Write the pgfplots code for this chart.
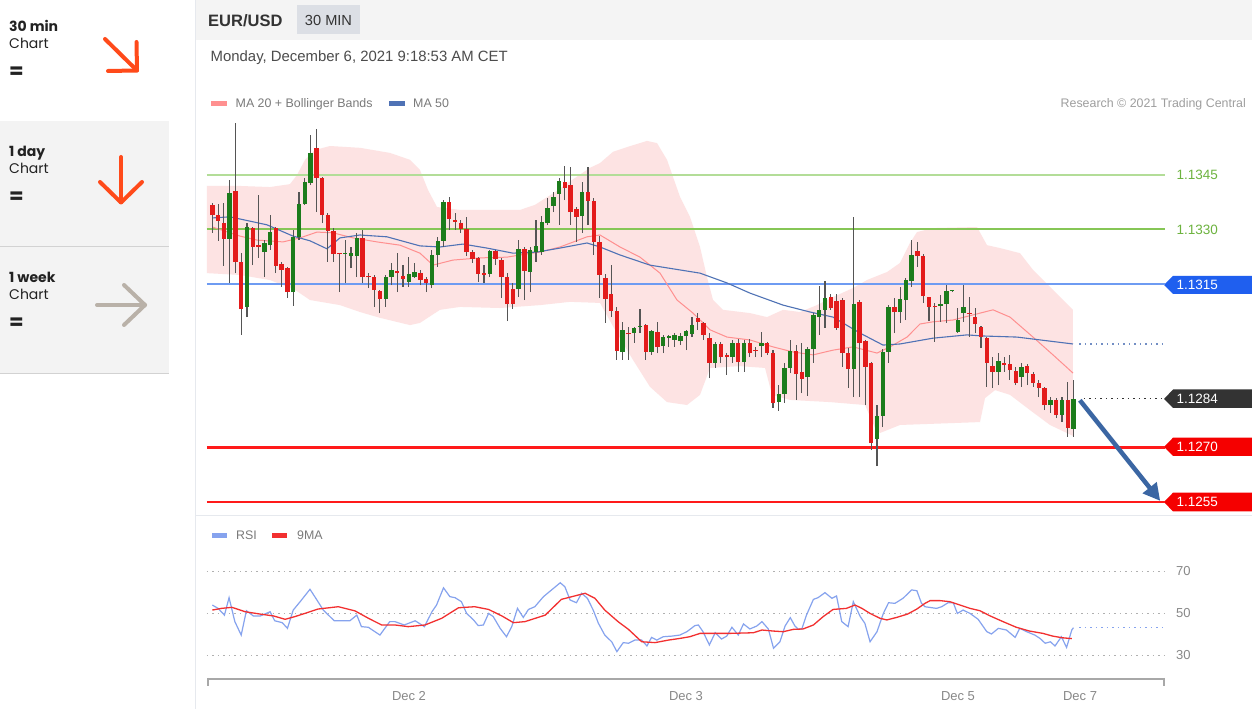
\documentclass[border=0pt]{standalone}
\usepackage{fontspec}
\setmainfont{Liberation Sans}
\newfontfamily\pop{Poppins}
\usepackage{pgfplots}
\usepackage{pgfplotstable}
\pgfplotsset{compat=1.18}
\usetikzlibrary{arrows.meta}
\newcommand{\fs}[1]{\fontsize{#1}{#1}\selectfont}
\definecolor{candgreen}{HTML}{1C7C1C}
\definecolor{candred}{HTML}{E31B1B}
\definecolor{wick}{HTML}{555555}
\definecolor{bandpink}{HTML}{FDE3E3}
\definecolor{ma20}{HTML}{FF9090}
\definecolor{ma50}{HTML}{4F72B5}
\definecolor{lvlgreenone}{HTML}{B3DD98}
\definecolor{lvlgreentwo}{HTML}{86C656}
\definecolor{lvlblue}{HTML}{6E9BF2}
\definecolor{lvlred}{HTML}{FF1A1A}
\definecolor{arrowblue}{HTML}{3B66A3}
\definecolor{rsiblue}{HTML}{86A3EE}
\definecolor{rsired}{HTML}{F23030}
\definecolor{gridgray}{HTML}{B0B0B0}
\definecolor{labelgreen}{HTML}{6DB33F}
\definecolor{lblblue}{HTML}{1F5FEF}
\definecolor{lbldark}{HTML}{333333}
\definecolor{lblred}{HTML}{F50000}
\definecolor{axisgray}{HTML}{A8A8A8}
\definecolor{datetext}{HTML}{888888}
\definecolor{panelgray}{HTML}{F3F3F3}
\definecolor{panelline}{HTML}{D2D2D2}
\definecolor{headgray}{HTML}{F4F4F4}
\definecolor{tagbg}{HTML}{DCDFE5}
\definecolor{sepgray}{HTML}{E6E9EE}
\definecolor{arrowred}{HTML}{FF4A1A}
\definecolor{arrowtaupe}{HTML}{B9B1A8}
\definecolor{darktext}{HTML}{222222}

\pgfplotstableread{
i O H L C
0 1.13368 1.13373 1.13291 1.13340
1 1.13340 1.13370 1.13269 1.13324
2 1.13318 1.13373 1.13200 1.13274
3 1.13274 1.13436 1.13153 1.13401
4 1.13406 1.13593 1.13180 1.13211
5 1.13211 1.13235 1.13010 1.13081
6 1.13087 1.13318 1.13059 1.13307
7 1.13304 1.13307 1.13202 1.13252
8 1.13257 1.13395 1.13222 1.13252
9 1.13238 1.13271 1.13169 1.13263
10 1.13257 1.13340 1.13244 1.13293
11 1.13304 1.13307 1.13180 1.13200
12 1.13205 1.13211 1.13142 1.13189
13 1.13194 1.13197 1.13112 1.13128
14 1.13128 1.13299 1.13090 1.13280
15 1.13280 1.13403 1.13271 1.13370
16 1.13370 1.13442 1.13368 1.13431
17 1.13428 1.13560 1.13423 1.13511
18 1.13525 1.13577 1.13348 1.13442
19 1.13442 1.13445 1.13318 1.13340
20 1.13340 1.13346 1.13211 1.13296
21 1.13296 1.13304 1.13211 1.13233
22 1.13235 1.13235 1.13128 1.13233
23 1.13233 1.13271 1.13153 1.13235
24 1.13227 1.13252 1.13194 1.13235
25 1.13227 1.13291 1.13169 1.13277
26 1.13277 1.13299 1.13153 1.13169
27 1.13172 1.13180 1.13139 1.13169
28 1.13169 1.13175 1.13087 1.13134
29 1.13131 1.13134 1.13070 1.13109
30 1.13109 1.13175 1.13087 1.13169
31 1.13169 1.13208 1.13147 1.13189
32 1.13186 1.13235 1.13128 1.13180
33 1.13172 1.13202 1.13142 1.13164
34 1.13156 1.13224 1.13142 1.13178
35 1.13169 1.13208 1.13167 1.13183
36 1.13180 1.13189 1.13147 1.13161
37 1.13164 1.13169 1.13128 1.13153
38 1.13147 1.13244 1.13139 1.13230
39 1.13230 1.13280 1.13197 1.13269
40 1.13269 1.13381 1.13252 1.13376
41 1.13376 1.13390 1.13299 1.13329
42 1.13326 1.13346 1.13299 1.13321
43 1.13318 1.13326 1.13291 1.13302
44 1.13302 1.13335 1.13227 1.13238
45 1.13238 1.13244 1.13208 1.13219
46 1.13222 1.13224 1.13156 1.13178
47 1.13180 1.13202 1.13153 1.13175
48 1.13178 1.13244 1.13169 1.13241
49 1.13241 1.13244 1.13202 1.13219
50 1.13216 1.13222 1.13112 1.13169
51 1.13169 1.13180 1.13048 1.13095
52 1.13136 1.13153 1.13081 1.13095
53 1.13136 1.13271 1.13114 1.13247
54 1.13247 1.13252 1.13106 1.13186
55 1.13183 1.13252 1.13128 1.13244
56 1.13238 1.13326 1.13211 1.13255
57 1.13238 1.13337 1.13230 1.13321
58 1.13318 1.13387 1.13313 1.13359
59 1.13365 1.13403 1.13348 1.13390
60 1.13398 1.13442 1.13313 1.13434
61 1.13431 1.13475 1.13381 1.13414
62 1.13423 1.13472 1.13313 1.13348
63 1.13357 1.13362 1.13266 1.13335
64 1.13337 1.13431 1.13291 1.13403
65 1.13403 1.13472 1.13313 1.13379
66 1.13379 1.13387 1.13230 1.13266
67 1.13266 1.13282 1.13112 1.13175
68 1.13167 1.13178 1.13043 1.13109
69 1.13123 1.13202 1.13059 1.13076
70 1.13076 1.13087 1.12941 1.12966
71 1.12963 1.13046 1.12941 1.13024
72 1.13015 1.13032 1.12941 1.13012
73 1.13015 1.13032 1.12988 1.13029
74 1.13032 1.13081 1.13015 1.13035
75 1.13037 1.13040 1.12941 1.12963
76 1.12963 1.13024 1.12955 1.13021
77 1.13018 1.13046 1.12960 1.12977
78 1.12979 1.13010 1.12960 1.13004
79 1.13001 1.13010 1.12977 1.13007
80 1.12996 1.13015 1.12977 1.13010
81 1.12993 1.13015 1.12982 1.13007
82 1.13007 1.13024 1.12968 1.13021
83 1.13012 1.13059 1.13004 1.13037
84 1.13057 1.13070 1.13024 1.13046
85 1.13043 1.13046 1.12996 1.13010
86 1.13001 1.13015 1.12891 1.12933
87 1.12933 1.12991 1.12919 1.12985
88 1.12985 1.12991 1.12933 1.12949
89 1.12955 1.12960 1.12900 1.12949
90 1.12949 1.12996 1.12933 1.12988
91 1.12988 1.12999 1.12908 1.12935
92 1.12935 1.12996 1.12908 1.12988
93 1.12988 1.12999 1.12949 1.12960
94 1.12968 1.12977 1.12949 1.12966
95 1.12979 1.13018 1.12949 1.12988
96 1.12988 1.12991 1.12955 1.12960
97 1.12960 1.12968 1.12809 1.12823
98 1.12825 1.12872 1.12801 1.12847
99 1.12847 1.12933 1.12823 1.12919
100 1.12919 1.12996 1.12905 1.12966
101 1.12966 1.12982 1.12831 1.12902
102 1.12908 1.12988 1.12850 1.12889
103 1.12894 1.12977 1.12842 1.12971
104 1.12971 1.13070 1.12933 1.13065
105 1.13059 1.13145 1.13010 1.13079
106 1.13079 1.13158 1.13029 1.13112
107 1.13114 1.13123 1.13079 1.13084
108 1.13103 1.13123 1.13024 1.13029
109 1.13106 1.13112 1.12922 1.12960
110 1.12960 1.12974 1.12864 1.12916
111 1.12916 1.13335 1.12839 1.13095
112 1.13101 1.13106 1.12839 1.12988
113 1.12993 1.12996 1.12817 1.12922
114 1.12933 1.12935 1.12693 1.12712
115 1.12723 1.12817 1.12649 1.12787
116 1.12787 1.12971 1.12756 1.12963
117 1.12963 1.13092 1.12933 1.13087
118 1.13087 1.13112 1.13015 1.13073
119 1.13073 1.13142 1.13043 1.13109
120 1.13106 1.13167 1.13051 1.13161
121 1.13158 1.13271 1.13142 1.13230
122 1.13241 1.13266 1.13197 1.13227
123 1.13227 1.13233 1.13098 1.13117
124 1.13114 1.13114 1.13048 1.13087
125 1.13090 1.13098 1.12991 1.13087
126 1.13090 1.13120 1.13046 1.13095
127 1.13095 1.13147 1.13043 1.13131
128 1.13131 1.13134 1.13128 1.13131
129 1.13019 1.13084 1.13015 1.13051
130 1.13070 1.13147 1.13046 1.13087
131 1.13070 1.13114 1.13004 1.13068
132 1.13059 1.13084 1.13015 1.13040
133 1.13032 1.13035 1.12974 1.13004
134 1.13001 1.13004 1.12867 1.12933
135 1.12924 1.12949 1.12864 1.12908
136 1.12908 1.12960 1.12872 1.12938
137 1.12933 1.12949 1.12908 1.12927
138 1.12930 1.12955 1.12886 1.12913
139 1.12911 1.12922 1.12872 1.12878
140 1.12894 1.12933 1.12867 1.12922
141 1.12924 1.12930 1.12872 1.12905
142 1.12902 1.12908 1.12867 1.12878
143 1.12878 1.12886 1.12839 1.12864
144 1.12864 1.12867 1.12803 1.12817
145 1.12817 1.12839 1.12795 1.12831
146 1.12831 1.12836 1.12781 1.12790
147 1.12790 1.12839 1.12770 1.12831
148 1.12831 1.12880 1.12729 1.12754
149 1.12751 1.12886 1.12729 1.12834
}\candles

\begin{document}
\begin{tikzpicture}
\path[use as bounding box, fill=white] (0pt,0pt) rectangle (1252pt,709pt);

% ---------- page furniture in pixel coordinates ----------
\begin{scope}[shift={(0pt,709pt)}, x=1pt, y=-1pt, every node/.style={inner sep=0pt}]
  % left panel
  \fill[panelgray] (0,121) rectangle (169,373);
  \draw[panelline, line width=1pt] (0,246.5) -- (169,246.5);
  \draw[panelline, line width=1pt] (0,373.5) -- (169,373.5);
  \node[anchor=base west, font=\pop\bfseries\fs{14}, text=darktext] at (9,32) {30 min};
  \node[anchor=base west, font=\pop\fs{14}, text=darktext] at (9,49) {Chart};
  \node[anchor=center, font=\pop\bfseries\fs{21}, text=darktext] at (16.5,72.5) {=};
  \node[anchor=base west, font=\pop\bfseries\fs{14}, text=darktext] at (9,156.7) {1 day};
  \node[anchor=base west, font=\pop\fs{14}, text=darktext] at (9,174) {Chart};
  \node[anchor=center, font=\pop\bfseries\fs{21}, text=darktext] at (16.5,198) {=};
  \node[anchor=base west, font=\pop\bfseries\fs{14}, text=darktext] at (9,282.7) {1 week};
  \node[anchor=base west, font=\pop\fs{14}, text=darktext] at (9,300) {Chart};
  \node[anchor=center, font=\pop\bfseries\fs{21}, text=darktext] at (16.5,323.5) {=};
  \draw[arrowred, line width=4pt, line cap=round, line join=round] (105,39) -- (137,70.5);
  \draw[arrowred, line width=4pt, line cap=round, line join=round] (136.5,42) -- (137,70.5) -- (108,71);
  \draw[arrowred, line width=4pt, line cap=round, line join=round] (121,157) -- (121,202.5);
  \draw[arrowred, line width=4pt, line cap=round, line join=round] (100,182) -- (121,202.5) -- (142,182);
  \draw[arrowtaupe, line width=4pt, line cap=round, line join=round] (97,305) -- (145,305);
  \draw[arrowtaupe, line width=4pt, line cap=round, line join=round] (124,285) -- (145,305) -- (124,325);
  % separators and header
  \draw[sepgray, line width=1pt] (195.5,0) -- (195.5,709);
  \fill[headgray] (196,0) rectangle (1252,40.5);
  \draw[sepgray, line width=1.2pt] (196,515.5) -- (1252,515.5);
  \node[anchor=base west, font=\bfseries\fs{16.5}, text=lbldark] at (208,26.5) {EUR/USD};
  \fill[tagbg] (297,5) rectangle (360,34);
  \node[anchor=base, font=\fs{14.6}, text=lbldark] at (328.5,25.6) {30 MIN};
  \node[anchor=base west, font=\fs{14.9}, text=black!70] at (210.5,62) {Monday, December 6, 2021 9:18:53 AM CET};
  % legends
  \fill[ma20] (211,101) rectangle (227,106);
  \node[anchor=base west, font=\fs{12.4}, text=black!52] at (235.5,107.8) {MA 20 + Bollinger Bands};
  \fill[ma50] (389,101) rectangle (405,106);
  \node[anchor=base west, font=\fs{12.4}, text=black!52] at (413,107.8) {MA 50};
  \node[anchor=base east, font=\fs{12.4}, text=black!38] at (1246,107.8) {Research \textcopyright{} 2021 Trading Central};
  \fill[rsiblue] (212,533) rectangle (227,538);
  \node[anchor=base west, font=\fs{12.4}, text=black!52] at (236,540) {RSI};
  \fill[rsired] (272,533) rectangle (287,538);
  \node[anchor=base west, font=\fs{12.4}, text=black!52] at (297,540) {9MA};
  % price labels
  \node[anchor=base west, font=\fs{13.5}, text=labelgreen] at (1176.5,180) {1.1345};
  \node[anchor=base west, font=\fs{13.5}, text=labelgreen] at (1176.5,234.8) {1.1330};
  \fill[lblblue] (1164,285) -- (1173,275.8) -- (1252,275.8) -- (1252,294) -- (1173,294) -- cycle;
  \node[anchor=base west, font=\fs{13.5}, text=white] at (1176.5,289.8) {1.1315};
  \fill[lbldark] (1164,399) -- (1173,389.5) -- (1252,389.5) -- (1252,408) -- (1173,408) -- cycle;
  \node[anchor=base west, font=\fs{13.5}, text=white] at (1176.5,403.5) {1.1284};
  \fill[lblred] (1164,447) -- (1173,437.7) -- (1252,437.7) -- (1252,456) -- (1173,456) -- cycle;
  \node[anchor=base west, font=\fs{13.5}, text=white] at (1176.5,451.8) {1.1270};
  \fill[lblred] (1164,502) -- (1173,492.7) -- (1252,492.7) -- (1252,511.5) -- (1173,511.5) -- cycle;
  \node[anchor=base west, font=\fs{13.5}, text=white] at (1176.5,506.8) {1.1255};
  % RSI scale labels
  \node[anchor=base west, font=\fs{13}, text=datetext] at (1176,576) {70};
  \node[anchor=base west, font=\fs{13}, text=datetext] at (1176,618) {50};
  \node[anchor=base west, font=\fs{13}, text=datetext] at (1176,660) {30};
  % bottom time axis
  \draw[axisgray, line width=2pt] (207,679) -- (1165,679);
  \draw[axisgray, line width=2pt] (208,678) -- (208,686);
  \draw[axisgray, line width=2pt] (1164,678) -- (1164,686);
  \node[anchor=base, font=\fs{13}, text=datetext] at (409,700) {Dec 2};
  \node[anchor=base, font=\fs{13}, text=datetext] at (686,700) {Dec 3};
  \node[anchor=base, font=\fs{13}, text=datetext] at (958,700) {Dec 5};
  \node[anchor=base, font=\fs{13}, text=datetext] at (1080,700) {Dec 7};
\end{scope}

% ---------- price panel ----------
\begin{axis}[at={(200pt,194pt)}, anchor=south west, scale only axis,
  width=1052pt, height=395pt, xmin=-2.128, xmax=179.88,
  ymin=1.125142, ymax=1.136016, hide axis, clip=false]
\addplot[fill=bandpink, draw=none] coordinates {
(-0.92,1.13420) (4.79,1.13420) (9.98,1.13417) (13.44,1.13425) (14.65,1.13450) (16.04,1.13492) (17.77,1.13519) (20.36,1.13530) (25.55,1.13525) (30.74,1.13511) (34.20,1.13492) (35.93,1.13464) (37.32,1.13409) (38.88,1.13362) (42.86,1.13354) (53.24,1.13354) (55.83,1.13368) (59.29,1.13403) (62.75,1.13442) (65.35,1.13470) (67.08,1.13483) (69.33,1.13514) (71.75,1.13527) (75.21,1.13544) (76.94,1.13538) (78.67,1.13492) (80.92,1.13390) (82.65,1.13335) (84.38,1.13252) (85.59,1.13169) (86.63,1.13106) (88.36,1.13079) (93.03,1.13070) (95.97,1.13059) (98.74,1.13079) (101.68,1.13073) (104.62,1.13092) (107.39,1.13114) (110.85,1.13139) (113.27,1.13161) (116.73,1.13183) (118.98,1.13208) (120.71,1.13263) (121.92,1.13293) (124.69,1.13304) (132.30,1.13307) (134.03,1.13257) (136.28,1.13249) (139.74,1.13235) (141.99,1.13189) (145.45,1.13134) (148.91,1.13079)
(148.91,1.12732) (144.93,1.12762) (141.47,1.12803) (138.01,1.12845) (135.42,1.12858) (133.69,1.12836) (132.82,1.12770) (129.36,1.12768) (118.98,1.12762) (115.52,1.12740) (114.66,1.12754) (112.93,1.12817) (106.87,1.12825) (99.95,1.12831) (96.84,1.12845) (95.63,1.12919) (91.30,1.12924) (86.11,1.12919) (84.38,1.12845) (82.13,1.12817) (78.67,1.12825) (75.73,1.12867) (72.79,1.12941) (69.67,1.13024) (67.08,1.13098) (61.89,1.13101) (56.70,1.13092) (49.78,1.13084) (42.86,1.13087) (39.39,1.13079) (35.93,1.13043) (34.20,1.13037) (29.01,1.13057) (25.55,1.13073) (22.09,1.13092) (16.90,1.13106) (14.31,1.13134) (9.98,1.13161) (4.79,1.13175) (-0.92,1.13180)
};
\addplot[draw=lvlgreenone, line width=1.4pt] coordinates {(-0.92,1.1345) (164.83,1.1345)};
\addplot[draw=lvlgreentwo, line width=1.5pt] coordinates {(-0.92,1.13301) (164.83,1.13301)};
\addplot[draw=lvlblue, line width=2.3pt] coordinates {(-0.92,1.1315) (164.83,1.1315)};
\addplot[draw=lvlred, line width=2.5pt] coordinates {(-0.92,1.1270) (164.83,1.1270)};
\addplot[draw=lvlred, line width=2.5pt] coordinates {(-0.92,1.1255) (164.83,1.1255)};
\addplot[draw=ma20, line width=1pt] coordinates {
(0,1.13307) (4.79,1.13282) (7.73,1.13271) (12.23,1.13266) (15.17,1.13277) (18.11,1.13293) (20.88,1.13291) (24.34,1.13277) (28.49,1.13266) (32.47,1.13257) (35.93,1.13235) (38.18,1.13202) (41.64,1.13216) (46.31,1.13222) (50.98,1.13224) (53.24,1.13230) (56.70,1.13238) (60.16,1.13252) (64.83,1.13280) (67.08,1.13285) (70.54,1.13252) (74.00,1.13224) (77.46,1.13180) (80.40,1.13106) (83.17,1.13070) (86.11,1.13024) (89.05,1.13004) (93.03,1.12996) (97.01,1.12977) (100.47,1.12963) (103.93,1.12955) (107.39,1.12968) (110.85,1.12977) (115.00,1.12960) (117.25,1.12977) (120.19,1.13004) (122.44,1.13040) (124.69,1.13046) (128.15,1.13051) (131.61,1.13065) (135.07,1.13079) (138.01,1.13059) (141.99,1.13004) (145.45,1.12955) (148.91,1.12905)};
\addplot[draw=ma50, line width=1.1pt] coordinates {
(0,1.13332) (3.06,1.13335) (9.46,1.13313) (13.96,1.13282) (16.90,1.13269) (19.84,1.13247) (22.09,1.13277) (25.55,1.13285) (30.22,1.13280) (35.93,1.13255) (39.39,1.13252) (43.37,1.13260) (47.53,1.13249) (52.02,1.13235) (56.18,1.13238) (60.16,1.13249) (64.83,1.13263) (67.08,1.13252) (70.54,1.13230) (75.73,1.13202) (84.38,1.13180) (89.05,1.13153) (93.03,1.13125) (98.74,1.13092) (103.41,1.13073) (107.39,1.13059) (112.06,1.13015) (116.04,1.12982) (118.98,1.12985) (124.69,1.13001) (130.57,1.13010) (133.34,1.13007) (139.22,1.13004) (148.91,1.12985)};
% wicks
\addplot[draw=none, mark=none, error bars/.cd, y dir=plus, y explicit, error mark=none,
  error bar style={draw=wick, line width=1.1pt}]
  table[x=i, y=L, y error plus expr={\thisrow{H}-\thisrow{L}}] {\candles};
% bullish bodies
\addplot[draw=none, mark=none,
  restrict expr to domain={(\thisrow{C}-\thisrow{O})*100000}{-0.5:1000},
  error bars/.cd, y dir=plus, y explicit, error mark=none,
  error bar style={draw=candgreen, line width=4.4pt}]
  table[x=i, y expr={min(\thisrow{O},\thisrow{C})}, y error plus expr={max(abs(\thisrow{C}-\thisrow{O}),0.00003)}] {\candles};
% bearish bodies
\addplot[draw=none, mark=none,
  restrict expr to domain={(\thisrow{C}-\thisrow{O})*100000}{-1000:-0.5},
  error bars/.cd, y dir=plus, y explicit, error mark=none,
  error bar style={draw=candred, line width=4.4pt}]
  table[x=i, y expr={min(\thisrow{O},\thisrow{C})}, y error plus expr={max(abs(\thisrow{C}-\thisrow{O}),0.00003)}] {\candles};
\draw[ma50!80, line width=1.1pt, dash pattern=on 1.3pt off 4.2pt] (axis cs:150,1.12985) -- (axis cs:164.83,1.12985);
\draw[lbldark, line width=1.1pt, dash pattern=on 1.3pt off 4.2pt] (axis cs:150.8,1.12834) -- (axis cs:164.83,1.12834);
\draw[arrowblue, line width=4.5pt, -{Triangle[length=17pt,width=17pt]}] (axis cs:150.1,1.12830) -- (axis cs:164.0,1.12553);
\end{axis}

% ---------- RSI panel ----------
\begin{axis}[at={(200pt,34pt)}, anchor=south west, scale only axis,
  width=1052pt, height=155pt, xmin=-2.128, xmax=179.88,
  ymin=20.48, ymax=94.29, hide axis, clip=false]
\draw[gridgray, line width=1pt, dash pattern=on 1.2pt off 4.3pt] (axis cs:-0.92,70) -- (axis cs:164.83,70);
\draw[gridgray, line width=1pt, dash pattern=on 1.2pt off 4.3pt] (axis cs:-0.92,50) -- (axis cs:164.83,50);
\draw[gridgray, line width=1pt, dash pattern=on 1.2pt off 4.3pt] (axis cs:-0.92,30) -- (axis cs:164.83,30);
\addplot[draw=rsiblue, line width=1.2pt] coordinates {
(0.0,53.8) (1.0,52.2) (2.1,49.0) (2.9,57.3) (3.9,45.9) (5.0,39.5) (5.9,51.1) (7.1,48.6) (8.3,48.6) (10.0,50.6) (10.8,46.3) (12.1,45.4) (13.0,42.7) (14.0,51.4) (15.2,55.4) (16.9,61.3) (18.1,56.2) (19.2,51.4) (21.1,46.3) (23.8,46.3) (25.0,49.0) (25.8,43.5) (27.0,43.2) (29.0,39.5) (30.7,45.9) (31.6,45.9) (33.2,44.3) (35.1,46.3) (36.7,43.5) (38.0,50.6) (38.8,53.8) (40.0,62.0) (41.1,57.8) (42.0,57.3) (43.1,55.4) (44.0,49.8) (45.2,46.7) (46.0,44.0) (46.9,44.3) (47.8,49.8) (48.6,48.3) (49.8,42.7) (50.9,38.7) (51.8,43.5) (52.8,52.2) (53.8,47.9) (54.7,51.7) (55.8,53.0) (57.3,57.8) (58.7,61.0) (60.2,64.4) (61.0,62.5) (61.9,56.2) (63.0,54.9) (63.9,59.4) (64.9,57.0) (65.9,51.4) (66.8,45.1) (67.9,39.5) (69.1,36.3) (70.0,31.6) (71.1,35.9) (72.0,35.6) (73.1,37.1) (74.3,37.1) (75.2,34.3) (76.0,38.4) (76.9,37.1) (78.0,38.7) (79.5,39.0) (80.9,39.5) (82.1,41.1) (83.5,44.0) (84.1,44.3) (84.9,41.1) (86.0,34.8) (87.0,40.6) (88.1,37.6) (89.0,39.0) (89.9,43.2) (91.0,39.5) (91.9,44.8) (93.0,42.4) (94.2,43.8) (95.1,45.9) (96.2,42.4) (97.1,33.2) (98.2,36.3) (99.1,43.8) (100.0,47.8) (100.8,43.8) (101.4,42.2) (102.0,42.4) (102.8,49.0) (104.0,56.5) (104.8,57.3) (106.0,59.7) (107.2,57.0) (108.0,58.1) (108.9,45.9) (110.0,43.5) (110.9,55.4) (112.1,48.3) (112.9,45.1) (113.8,36.3) (115.0,41.1) (116.1,49.8) (117.0,54.9) (118.1,54.6) (119.5,57.0) (121.0,61.0) (121.9,60.6) (122.7,54.6) (123.3,53.0) (125.3,52.2) (126.2,53.0) (127.3,54.9) (128.2,54.9) (128.9,49.8) (129.9,51.4) (131.1,49.8) (132.5,47.0) (134.0,41.1) (134.8,40.0) (136.0,42.7) (137.4,41.9) (138.9,38.4) (139.7,42.7) (140.9,41.1) (142.3,39.5) (143.2,37.9) (144.1,35.6) (145.0,36.3) (145.8,34.3) (146.9,38.7) (147.8,33.6) (148.7,41.9) (149.0,43.0)};
\addplot[draw=rsired, line width=1.3pt] coordinates {
(0.0,51.4) (1.6,52.2) (3.4,52.7) (5.7,50.6) (8.5,49.4) (10.6,48.6) (12.6,47.0) (14.3,48.3) (16.0,49.8) (18.3,51.9) (21.8,53.0) (24.7,51.0) (27.0,47.5) (29.3,44.3) (31.6,44.3) (33.9,43.5) (36.8,44.3) (39.7,47.5) (42.6,52.5) (45.4,53.0) (47.8,51.7) (50.1,48.6) (52.1,45.4) (54.1,45.9) (57.6,49.0) (60.4,56.5) (64.5,59.4) (66.2,57.0) (67.9,51.4) (70.2,45.9) (72.0,42.2) (74.3,36.3) (76.6,35.9) (78.9,37.1) (80.9,37.9) (82.6,38.7) (84.4,40.3) (86.7,40.3) (89.6,40.3) (93.6,40.6) (95.1,41.9) (97.1,41.4) (98.8,41.1) (100.5,42.2) (102.2,42.4) (104.0,44.3) (105.7,48.3) (107.4,51.7) (109.7,52.2) (111.2,53.8) (112.4,52.2) (113.8,49.8) (115.5,47.5) (116.7,46.7) (118.4,47.9) (120.3,49.5) (121.9,51.9) (123.3,54.6) (124.2,55.9) (125.9,55.9) (127.6,55.4) (128.8,54.3) (131.1,52.2) (132.8,51.1) (134.5,48.7) (136.8,45.9) (139.1,43.2) (141.4,41.4) (143.7,40.3) (145.4,39.0) (147.1,38.2) (148.7,37.8)};
\draw[rsiblue, line width=1.2pt, dash pattern=on 1.3pt off 4.2pt] (axis cs:150,43.0) -- (axis cs:164.83,43.0);
\end{axis}
\end{tikzpicture}
\end{document}
